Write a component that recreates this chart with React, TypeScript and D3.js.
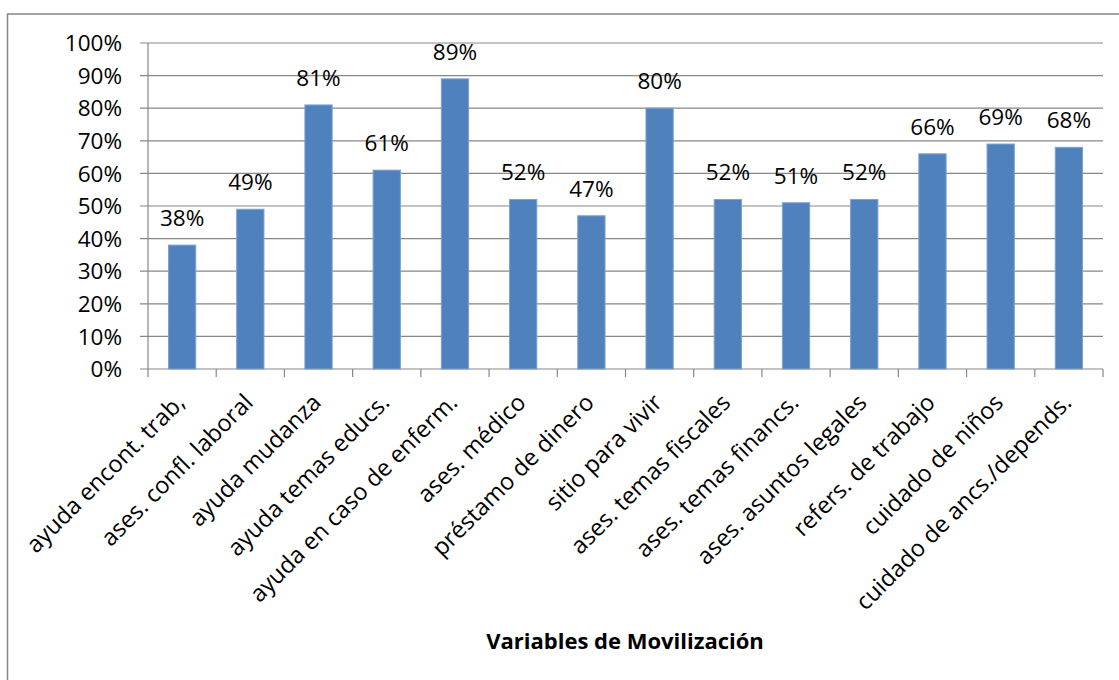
import React from "react";
import * as d3 from "d3";

const categories: string[] = [
  "ayuda encont. trab,",
  "ases. confl. laboral",
  "ayuda mudanza",
  "ayuda temas educs.",
  "ayuda en caso de enferm.",
  "ases. médico",
  "préstamo de dinero",
  "sitio para vivir",
  "ases. temas fiscales",
  "ases. temas financs.",
  "ases. asuntos legales",
  "refers. de trabajo",
  "cuidado de niños",
  "cuidado de ancs./depends.",
];
const values: number[] = [38, 49, 81, 61, 89, 52, 47, 80, 52, 51, 52, 66, 69, 68];
const yTicks: number[] = [0, 10, 20, 30, 40, 50, 60, 70, 80, 90, 100];
const axisTitle = "Variables de Movilización";

const W = 1119;
const H = 680;
const FONT = "'Open Sans', 'Noto Sans', sans-serif";
const GRID = "#878787";

export default function App() {
  const left = 148;
  const right = 1103;
  const top = 43;
  const bottom = 369;
  const x = d3.scaleBand<string>().domain(categories).range([left, right]).paddingInner(0).paddingOuter(0);
  const y = d3.scaleLinear().domain([0, 100]).range([bottom, top]);
  const bw = x.bandwidth() * 0.4;

  return (
    <svg width={W} height={H} style={{ position: "absolute", left: 0, top: 0, background: "#fff" }} fontFamily={FONT}>
      <rect x={0} y={0} width={W} height={H} fill="#fff" />
      <rect x={7.5} y={14} width={W + 20} height={H + 20} fill="none" stroke={GRID} strokeWidth={1.5} />
      {yTicks.map((t) => (
        <g key={t}>
          <line x1={left - 8} x2={right} y1={y(t)} y2={y(t)} stroke={GRID} strokeWidth={1.2} />
          <text x={122} y={y(t)} dy="0.36em" textAnchor="end" fontSize={22.5} fill="#000">
            {t}%
          </text>
        </g>
      ))}
      <line x1={left} x2={left} y1={top} y2={bottom + 8} stroke={GRID} strokeWidth={1.2} />
      {categories.map((c, i) => (
        <line key={"t" + i} x1={(x(c) as number) + x.bandwidth()} x2={(x(c) as number) + x.bandwidth()} y1={bottom} y2={bottom + 8} stroke={GRID} strokeWidth={1.2} />
      ))}
      {categories.map((c, i) => {
        const cx = (x(c) as number) + x.bandwidth() / 2;
        return (
          <g key={"b" + i}>
            <rect x={cx - bw / 2} y={y(values[i])} width={bw} height={bottom - y(values[i])} fill="#4F81BD" stroke="#7EA1D1" strokeWidth={1} />
            <text x={cx} y={y(values[i]) - 19} textAnchor="middle" fontSize={22.5} fill="#000">
              {values[i]}%
            </text>
            <text transform={`translate(${cx + 4},${404}) rotate(-45)`} textAnchor="end" fontSize={23.5} fill="#000">
              {c}
            </text>
          </g>
        );
      })}
      <text x={625} y={649} textAnchor="middle" fontSize={22} fontWeight="bold" fill="#000">
        {axisTitle}
      </text>
    </svg>
  );
}
